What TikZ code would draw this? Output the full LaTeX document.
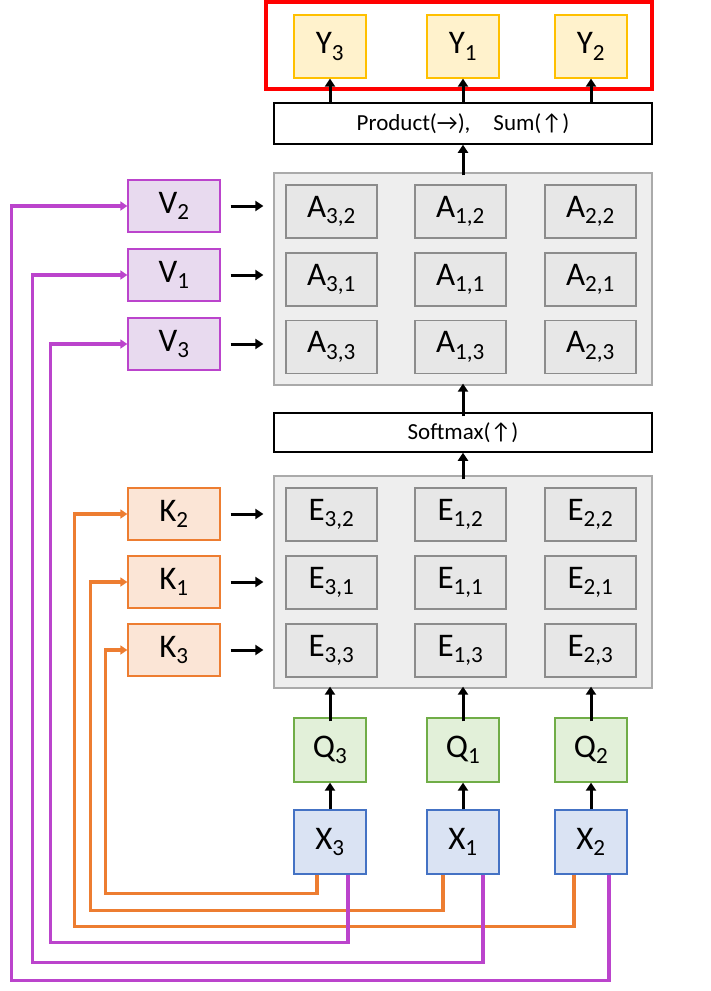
\documentclass[tikz,border=0pt]{standalone}
\usepackage{fontspec}
\setmainfont{Carlito}
\usetikzlibrary{arrows.meta,calc}
\definecolor{yb}{HTML}{FFC000}\definecolor{yf}{HTML}{FFF2CC}
\definecolor{gb}{HTML}{70AD47}\definecolor{gf}{HTML}{E2F0D9}
\definecolor{bb}{HTML}{4472C4}\definecolor{bf}{HTML}{DAE3F3}
\definecolor{pb}{HTML}{BB44CC}\definecolor{pf}{HTML}{E8DAEF}
\definecolor{ob}{HTML}{ED7D31}\definecolor{of}{HTML}{FBE5D6}
\definecolor{cb}{HTML}{8C8C8C}\definecolor{cf}{HTML}{E7E7E7}
\definecolor{pnf}{HTML}{EEEEEE}\definecolor{pnb}{HTML}{AAAAAA}
\newcommand{\sbs}[1]{\textsubscript{#1}}
\begin{document}
\begin{tikzpicture}[x=1pt,y=-1pt,
 box/.style={draw, line width=1.3pt, inner sep=0pt, font=\fontsize{33}{35}\selectfont},
 cell/.style={box, draw=cb, fill=cf, minimum width=91pt, minimum height=53pt},
 yy/.style={box, draw=yb, fill=yf, minimum width=72pt, minimum height=63pt},
 qq/.style={box, draw=gb, fill=gf, minimum width=72pt, minimum height=64pt},
 xx/.style={box, draw=bb, fill=bf, minimum width=72pt, minimum height=64pt},
 vv/.style={box, draw=pb, fill=pf, minimum width=92pt, minimum height=52pt},
 kk/.style={box, draw=ob, fill=of, minimum width=92pt, minimum height=52pt},
 panel/.style={draw=pnb, line width=1.3pt, fill=pnf, minimum width=378pt, minimum height=212pt, inner sep=0pt},
 bar/.style={draw, line width=1.5pt, fill=white, minimum width=378pt, inner sep=0pt, font=\fontsize{23}{25}\selectfont},
 ar/.style={line width=3pt, -{Triangle[length=8pt,width=10pt]}},
 oc/.style={draw=ob, line width=3.5pt, -{Triangle[length=7pt,width=9pt]}},
 pc/.style={draw=pb, line width=3.5pt, -{Triangle[length=7pt,width=9pt]}}]
\useasboundingbox (0,0) rectangle (711,991);
\node[draw=red, line width=3.5pt, minimum width=386pt, minimum height=87pt, inner sep=0pt] (red) at (459,45.5) {};
\node[yy] (y3) at (330,46.5) {Y\sbs{3}};
\node[yy] (y1) at (463,46.5) {Y\sbs{1}};
\node[yy] (y2) at (591,46.5) {Y\sbs{2}};
\node[bar, minimum height=41pt] (prod) at (463,123.5) {Product(\textrightarrow),\quad Sum(\textuparrow)};
\node[panel] (pa) at (463,279) {};
\node[bar, minimum height=39pt] (soft) at (463,432.5) {Softmax(\textuparrow)};
\node[panel] (pe) at (463,582) {};
\foreach \c/\cx in {3/331.5,1/460.5,2/590.5}{
 \foreach \r/\ry in {2/211.5,1/279.5,3/347}{
  \node[cell] (a\c\r) at (\cx,\ry) {A\sbs{\c,\r}};}
 \foreach \r/\ry in {2/514.5,1/582.5,3/650.5}{
  \node[cell] (e\c\r) at (\cx,\ry) {E\sbs{\c,\r}};}}
\node[vv] (v2) at (174,206) {V\sbs{2}};
\node[vv] (v1) at (174,275) {V\sbs{1}};
\node[vv] (v3) at (174,344) {V\sbs{3}};
\node[kk] (k2) at (174,514) {K\sbs{2}};
\node[kk] (k1) at (174,582) {K\sbs{1}};
\node[kk] (k3) at (174,650) {K\sbs{3}};
\node[qq] (q3) at (330,750) {Q\sbs{3}};
\node[qq] (q1) at (463,750) {Q\sbs{1}};
\node[qq] (q2) at (591,750) {Q\sbs{2}};
\node[xx] (x3) at (330,842) {X\sbs{3}};
\node[xx] (x1) at (463,842) {X\sbs{1}};
\node[xx] (x2) at (591,842) {X\sbs{2}};
\foreach \n in {3,1,2}{
 \draw[ar] (x\n.north) -- (q\n.south);
 \draw[ar] ([yshift=-4pt]q\n.north) -- ([yshift=2pt]q\n.north |- pe.south);}
\foreach \n in {2,1,3}{
 \draw[ar] ([xshift=10pt]v\n.east) -- ([xshift=-10pt]v\n.east -| pa.west);
 \draw[ar] ([xshift=10pt]k\n.east) -- ([xshift=-10pt]k\n.east -| pe.west);}
\draw[ar] ([yshift=-4pt]pe.north) -- (soft.south);
\draw[ar] ([yshift=-4pt]soft.north) -- ([yshift=2pt]pa.south);
\draw[ar] ([yshift=-3pt]pa.north) -- (prod.south);
\foreach \n in {3,1,2}{
 \draw[ar] (prod.north -| y\n) -- (y\n.south);}
\draw[oc] ([xshift=-13pt]x3.south) -- ++(0,19) -| ($(k3.west)+(-22,0)$) -- (k3.west);
\draw[oc] ([xshift=-20pt]x1.south) -- ++(0,36) -| ($(k1.west)+(-37,0)$) -- (k1.west);
\draw[oc] ([xshift=-17pt]x2.south) -- ++(0,52) -| ($(k2.west)+(-53,0)$) -- (k2.west);
\draw[pc] ([xshift=18pt]x3.south) -- ++(0,68) -| ($(v3.west)+(-77,0)$) -- (v3.west);
\draw[pc] ([xshift=20pt]x1.south) -- ++(0,88) -| ($(v1.west)+(-95,0)$) -- (v1.west);
\draw[pc] ([xshift=18pt]x2.south) -- ++(0,106) -| ($(v2.west)+(-116,0)$) -- (v2.west);
\end{tikzpicture}
\end{document}
